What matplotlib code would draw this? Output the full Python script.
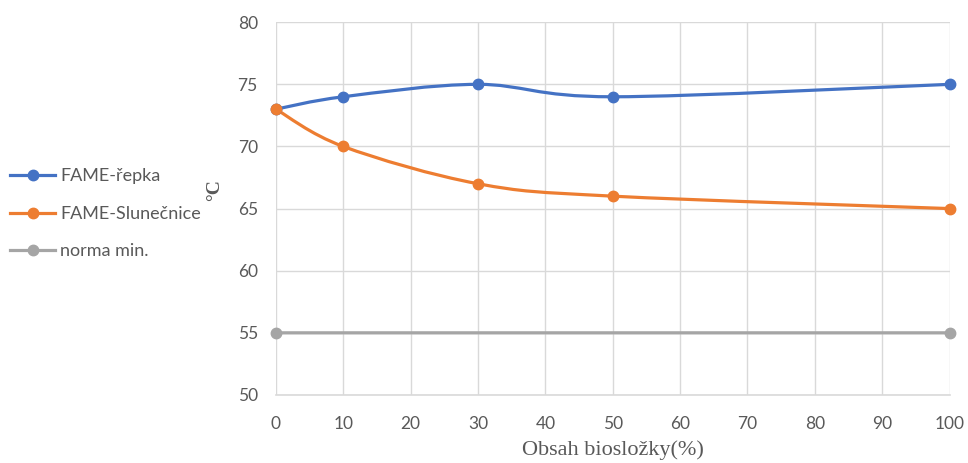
import matplotlib.pyplot as plt
import numpy as np
from matplotlib.lines import Line2D
from matplotlib.patches import PathPatch
from matplotlib.path import Path

# Measured values
obsah = [0, 10, 30, 50, 100]
fame_repka = [73, 74, 75, 74, 75]
fame_slunecnice = [73, 70, 67, 66, 65]
norma_x = [0, 100]
norma_min = [55, 55]

series = [
    ("FAME-řepka", obsah, fame_repka, "#4472C4"),
    ("FAME-Slunečnice", obsah, fame_slunecnice, "#ED7D31"),
    ("norma min.", norma_x, norma_min, "#A5A5A5"),
]

TICK_COLOR = "#595959"
GRID_COLOR = "#D9D9D9"
SANS = "Lato"
SERIF = "Liberation Serif"


def smooth_path(xs, ys):
    """Cubic Bezier path through the points (spreadsheet-style smoothing)."""
    pts = np.column_stack([xs, ys]).astype(float)
    n = len(pts)
    verts = [pts[0]]
    codes = [Path.MOVETO]
    for i in range(n - 1):
        p0 = pts[i - 1] if i > 0 else pts[i]
        p1 = pts[i]
        p2 = pts[i + 1]
        p3 = pts[i + 2] if i + 2 < n else pts[i + 1]
        c1 = p1 + (p2 - p0) / 6.0
        c2 = p2 - (p3 - p1) / 6.0
        verts += [c1, c2, p2]
        codes += [Path.CURVE4] * 3
    return Path(verts, codes)


fig = plt.figure(figsize=(9.68, 4.63), dpi=100)
ax = fig.add_axes([0.285, 0.147, 0.696, 0.805])

for label, xs, ys, color in series:
    ax.add_patch(PathPatch(smooth_path(xs, ys), facecolor="none",
                           edgecolor=color, linewidth=2.3, zorder=3,
                           capstyle="round", joinstyle="round"))
    ax.plot(xs, ys, linestyle="none", marker="o", markersize=7.5,
            color=color, zorder=4, clip_on=False)

ax.set_xlim(0, 100)
ax.set_ylim(50, 80)
ax.set_xticks(np.arange(0, 101, 10))
ax.set_yticks(np.arange(50, 81, 5))
ax.grid(True, color=GRID_COLOR, linewidth=1.0, zorder=0)
ax.set_axisbelow(True)
for side in ["top", "right", "left"]:
    ax.spines[side].set_visible(False)
ax.spines["bottom"].set_color(GRID_COLOR)
ax.spines["bottom"].set_linewidth(1.2)
ax.tick_params(axis="both", length=0, labelsize=12.5, labelcolor=TICK_COLOR)
ax.tick_params(axis="y", pad=13)
ax.tick_params(axis="x", pad=15)
for t in ax.get_xticklabels() + ax.get_yticklabels():
    t.set_fontfamily(SANS)

ax.set_xlabel("Obsah biosložky(%)", fontfamily=SERIF, fontsize=16,
              color=TICK_COLOR, labelpad=6)
fig.text(0.222, 0.59, "°C", rotation=90, ha="center", va="center",
         fontfamily=SERIF, fontsize=14, fontweight="bold", color=TICK_COLOR)

handles = [Line2D([0], [0], color=c, linewidth=2.3, marker="o", markersize=7.5)
           for _, _, _, c in series]
fig.legend(handles, [s[0] for s in series], loc="center left",
           bbox_to_anchor=(0.0, 0.538), frameon=False, borderaxespad=0.15,
           prop={"family": SANS, "size": 13}, labelcolor=TICK_COLOR,
           handlelength=2.5, handletextpad=0.3, labelspacing=1.19)

fig.savefig("out.png", dpi=100, facecolor="white")
